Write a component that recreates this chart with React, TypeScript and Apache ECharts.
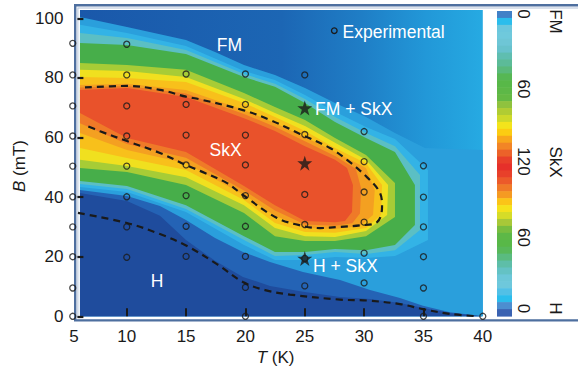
import React, { useEffect, useRef } from "react";
import * as echarts from "echarts";

const FONT = '"Liberation Sans", Arial, Helvetica, sans-serif';

// ---------- axes ----------
const tempTickValues = [10, 15, 20, 25, 30, 35];

// ---------- experimental points (T in K, B in mT) ----------
const expTemps = [5.45, 10, 15, 20, 25, 30, 35, 40];
const expFields = [
  [91.6, 81, 70.6, 60.5, 50.4, 40.1, 30, 20, 9.5, 0],
  [91.3, 81, 70.6, 60.5, 50.4, 40.1, 30, 19.8],
  [81.3, 71.1, 60.8, 50.8, 40.5, 30.2, 20.1],
  [81.3, 71.1, 60.8, 50.8, 40.5, 30.2, 20.1, 9.7, 0],
  [81, 61, 40.9, 30.8, 19.4, 10.2],
  [62, 51.9, 41.7, 31.6, 21.2, 11.2],
  [50.5, 40, 30, 20, 9.5, 0],
  [0],
];
const starTemps = [25, 25, 25];
const starFields = [69.9, 51.4, 19.4];

// ---------- phase boundaries (dashed) ----------
const skxBoundary = [
  [6.48, 76.8], [10.02, 77.3], [12.8, 76.0], [14.99, 73.7], [16.17, 72.8], [19.79, 69.2],
  [22.07, 65.9], [24.6, 61.2], [27.12, 56.5], [28.56, 52.5], [30.24, 46.7], [31.34, 41.4],
  [31.51, 36.7], [31.09, 31.6], [29.65, 30.5], [27.97, 30.0], [26.28, 29.6], [24.85, 30.3],
  [22.66, 33.0], [19.79, 40.7], [18.45, 44.7], [16.17, 48.8], [14.99, 50.8], [12.8, 54.8],
  [10.02, 58.8], [7.75, 62.1], [6.48, 64.2],
];
const hBoundary = [
  [5.89, 34.7], [10.02, 31.3], [12.8, 27.6], [15.08, 23.6], [17.6, 17.5], [19.79, 11.5],
  [21.65, 8.8], [23.75, 7.3], [27.97, 5.6], [30.24, 5.3], [33.02, 4.1], [34.96, 2.4],
  [37.24, 0.8], [39.6, 0],
];

// ---------- filled contour levels (outer -> inner) ----------
const baseArea = [[6.06, 0], [40, 0], [40, 102.8], [6.06, 102.8]];
const haloArea = [
  [6.06, 100.4], [10.02, 97.1], [14.99, 92.7], [17.44, 88.7], [19.88, 84.3], [22.49, 81.0],
  [25.02, 76.6], [27.55, 71.6], [30.16, 66.9], [32.6, 61.5], [35.13, 56.5], [40, 55.8],
  [40, 0], [6.06, 0],
];
const mediumArea = [
  [6.06, 42.4], [10.02, 40.4], [12.8, 37.0], [14.99, 32.3], [17.44, 26.3], [19.79, 21.6],
  [22.07, 18.2], [24.85, 14.9], [27.97, 12.2], [30.5, 8.8], [33.02, 6.1], [34.96, 3.5],
  [37.24, 1.4], [40, 0], [6.06, 0],
];
const darkArea = [
  [6.06, 41.4], [10.02, 38.7], [12.8, 33.7], [14.99, 25.6], [17.44, 18.6], [19.79, 13.2],
  [22.07, 10.2], [24.85, 8.2], [27.97, 6.5], [30.5, 5.8], [33.02, 4.5], [34.96, 2.8],
  [37.24, 1.1], [40, 0], [6.06, 0],
];
const cyanArea = [
  [6.06, 97.8], [10.02, 95.1], [14.99, 90.7], [19.88, 82.3], [22.49, 79.3], [25.02, 74.3],
  [27.55, 68.6], [30.16, 63.5], [32.6, 59.5], [35.38, 49.1], [35.38, 25.6], [32.6, 20.2],
  [30.16, 19.6], [27.55, 19.9], [25.02, 18.9], [22.49, 18.9], [19.88, 23.9], [14.99, 35.0],
  [10.02, 41.7], [6.06, 43.4],
];
const tealArea = [
  [6.06, 95.1], [10.02, 93.4], [14.99, 89.4], [19.88, 81.3], [22.49, 78.0], [25.02, 72.9],
  [27.55, 66.9], [30.16, 61.5], [32.6, 57.1], [34.71, 47.4], [34.71, 29.0], [32.6, 22.2],
  [30.16, 20.9], [27.55, 21.6], [25.02, 20.6], [22.49, 20.2], [19.88, 25.6], [14.99, 36.0],
  [10.02, 42.7], [6.06, 44.4],
];
const greenArea = [
  [6.06, 91.7], [10.02, 91.0], [14.99, 88.0], [19.88, 80.3], [22.49, 77.0], [25.02, 71.6],
  [27.55, 65.2], [30.16, 59.8], [32.6, 55.1], [34.28, 44.1], [34.28, 30.6], [32.6, 23.9],
  [30.16, 22.2], [27.55, 22.6], [25.02, 21.6], [22.49, 21.6], [19.88, 26.9], [14.99, 37.3],
  [10.02, 43.7], [6.06, 45.4],
];
const yellowGreenArea = [
  [6.06, 85.0], [10.02, 84.3], [14.99, 82.7], [19.88, 74.9], [22.49, 70.2], [25.02, 65.9],
  [27.55, 59.8], [30.16, 54.1], [32.6, 44.7], [32.6, 33.3], [30.16, 26.9], [27.55, 25.3],
  [25.02, 25.3], [22.49, 26.9], [19.88, 34.7], [14.99, 44.1], [10.02, 48.4], [6.06, 49.8],
];
const yellowArea = [
  [6.06, 82.7], [10.02, 82.3], [14.99, 80.3], [19.88, 72.9], [22.49, 68.2], [25.02, 63.9],
  [27.55, 58.2], [30.16, 52.5], [32.02, 44.1], [31.94, 34.0], [30.16, 28.6], [27.55, 26.6],
  [25.02, 26.9], [22.49, 29.6], [19.88, 37.3], [14.99, 46.7], [10.02, 50.4], [6.06, 52.5],
];
const goldArea = [
  [6.06, 80.3], [10.02, 80.0], [14.99, 78.6], [19.88, 71.6], [22.49, 66.9], [25.02, 62.2],
  [27.55, 56.5], [30.16, 51.4], [31.51, 44.1], [31.43, 34.0], [30.16, 29.6], [27.55, 28.0],
  [25.02, 28.3], [22.49, 31.3], [19.88, 39.0], [14.99, 49.1], [10.02, 53.1], [6.06, 56.5],
];
const orangeArea = [
  [6.06, 77.6], [10.02, 78.0], [14.99, 75.9], [19.88, 69.2], [22.49, 64.9], [25.02, 60.2],
  [27.55, 55.1], [30.16, 49.8], [30.9, 42.4], [30.75, 34.0], [29.65, 30.3], [27.55, 29.3],
  [25.02, 29.6], [22.49, 33.7], [19.88, 40.7], [14.99, 51.4], [10.02, 55.8], [6.06, 61.5],
];
const deepOrangeArea = [
  [6.06, 76.8], [10.02, 77.3], [14.99, 74.8], [19.88, 67.9], [22.49, 63.6], [25.02, 58.7],
  [27.55, 53.8], [29.3, 49.5], [29.75, 43.0], [29.65, 34.5], [29.0, 31.2], [27.55, 30.4],
  [25.02, 30.8], [22.49, 35.5], [19.88, 42.2], [14.99, 53.2], [10.02, 57.8], [6.06, 64.8],
];
const redArea = [
  [6.06, 75.9], [10.02, 76.6], [14.99, 73.6], [19.88, 66.5], [22.49, 62.2], [25.02, 57.1],
  [27.55, 52.5], [28.56, 49.8], [29.06, 44.1], [28.98, 35.0], [28.39, 32.0], [27.55, 31.6],
  [25.02, 32.0], [22.49, 37.3], [19.88, 43.7], [14.99, 55.1], [10.02, 59.8], [6.06, 68.2],
];

// ---------- colour bar (top FM side -> SkX -> bottom H side) ----------
const colorbarColors = [
  "#4181c7", "#2bbdec", "#6cc7dd", "#6fc9dc", "#6ec6d6", "#68c2cc", "#5fbeb0", "#5cbb98",
  "#5ab97a", "#56b754", "#58b848", "#5db847", "#64b944", "#8fc23e", "#b0cc33", "#cdd92a",
  "#f3e41c", "#fccc12", "#f8a61c", "#f28526", "#ec6229", "#e8402a", "#e6302a", "#e8402a",
  "#ec5a2a", "#f07a28", "#f59a22", "#fbc418", "#f5e21c", "#d6dc28", "#a8c838", "#78bd40",
  "#5db847", "#58b848", "#58b85a", "#5abb80", "#5ebea8", "#64c2c4", "#6cc7d8", "#6ec8dc",
  "#52c0e6", "#2bbdec", "#4c8ed0", "#3a62b2",
];
const colorbarTicks = ["0", "60", "120", "60", "0"];
const colorbarNames = ["FM", "SkX", "H"];

export default function App() {
  const ref = useRef<HTMLDivElement>(null);

  useEffect(() => {
    if (!ref.current) return;
    const chart = echarts.init(ref.current, null, { renderer: "svg" });

    const baseFill = new echarts.graphic.LinearGradient(0, 0, 1, 0, [
      { offset: 0, color: "#1a58aa" },
      { offset: 0.5, color: "#1c66b4" },
      { offset: 0.7, color: "#1f7ec6" },
      { offset: 0.86, color: "#2298d8" },
      { offset: 1, color: "#26aae2" },
    ]);

    const levels = [
      { pts: baseArea, fill: baseFill },
      { pts: haloArea, fill: "#2a9fdc" },
      { pts: mediumArea, fill: "#2463b5" },
      { pts: darkArea, fill: "#1f4c9d" },
      { pts: cyanArea, fill: "#33b3e6" },
      { pts: tealArea, fill: "#5bbfc4" },
      { pts: greenArea, fill: "#47ae4a" },
      { pts: yellowGreenArea, fill: "#a7cc36" },
      { pts: yellowArea, fill: "#f0e01f" },
      { pts: goldArea, fill: "#f8c01b" },
      { pts: orangeArea, fill: "#f4a021" },
      { pts: deepOrangeArea, fill: "#ef7a28" },
      { pts: redArea, fill: "#e9522b" },
    ];

    const expData: number[][] = [];
    expTemps.forEach((t, i) => expFields[i].forEach((b) => expData.push([t, b])));
    const starData = starTemps.map((t, i) => [t, starFields[i]]);

    // colour bar geometry
    const cbX = 497, cbTop = 11, cbBottom = 316, cbW = 15;
    const stripeH = (cbBottom - cbTop) / colorbarColors.length;
    const cbTickY = [14, 89, 161.5, 237.5, 308.5];
    const cbNameY = [21.5, 162, 308.5];

    const whiteText = (text: string, x: number, y: number, align: string) => ({
      type: "text",
      x,
      y,
      z: 100,
      style: {
        text,
        fill: "#ffffff",
        fontSize: 17.5,
        fontFamily: FONT,
        align,
        verticalAlign: "middle",
      },
    });

    // decorative double border, open to the right (pixel layout)
    const frameOuter = [[74, 4], [578, 4], [578, 6.4], [76.4, 6.4], [76.4, 319.2], [578, 319.2], [578, 321.6], [74, 321.6]];
    const frameInner = [[77.4, 7.6], [578, 7.6], [578, 8.6], [78.4, 8.6], [78.4, 317.6], [77.4, 317.6]];

    const graphics: any[] = [
      // colour bar stripes
      ...colorbarColors.map((c, i) => ({
        type: "rect",
        z: 2,
        shape: { x: cbX, y: cbTop + i * stripeH, width: cbW, height: stripeH + 0.6 },
        style: { fill: c },
      })),
      ...colorbarTicks.map((t, i) => ({
        type: "text",
        x: 523,
        y: cbTickY[i],
        rotation: -Math.PI / 2,
        z: 100,
        style: { text: t, fill: "#1a1a1a", fontSize: 17, fontFamily: FONT, align: "center", verticalAlign: "middle" },
      })),
      ...colorbarNames.map((t, i) => ({
        type: "text",
        x: 555,
        y: cbNameY[i],
        rotation: -Math.PI / 2,
        z: 100,
        style: { text: t, fill: "#1a1a1a", fontSize: 17, fontFamily: FONT, align: "center", verticalAlign: "middle" },
      })),
      // in-plot labels
      whiteText("FM", 229.5, 45, "center"),
      whiteText("SkX", 225.5, 150, "center"),
      whiteText("FM + SkX", 315, 108.5, "left"),
      whiteText("H + SkX", 313, 266, "left"),
      whiteText("H", 157, 281, "center"),
      whiteText("Experimental", 342.5, 32, "left"),
      {
        type: "circle",
        z: 100,
        shape: { cx: 334.3, cy: 30.7, r: 2.8 },
        style: { fill: "rgba(0,0,0,0)", stroke: "#1a1a1a", lineWidth: 1.3 },
      },
      // axis names
      {
        type: "text",
        x: 19,
        y: 166,
        rotation: Math.PI / 2,
        z: 100,
        style: {
          text: "{i|B} (mT)",
          fill: "#1a1a1a",
          fontSize: 17,
          fontFamily: FONT,
          align: "center",
          verticalAlign: "middle",
          rich: { i: { fontStyle: "italic", fontSize: 17, fontFamily: FONT, fill: "#1a1a1a" } },
        },
      },
      {
        type: "text",
        x: 275.5,
        y: 357,
        z: 100,
        style: {
          text: "{i|T} (K)",
          fill: "#1a1a1a",
          fontSize: 17,
          fontFamily: FONT,
          align: "center",
          verticalAlign: "middle",
          rich: { i: { fontStyle: "italic", fontSize: 17, fontFamily: FONT, fill: "#1a1a1a" } },
        },
      },
    ];

    const option: any = {
      animation: false,
      backgroundColor: "#ffffff",
      textStyle: { fontFamily: FONT },
      grid: { left: 67.4, top: 18.3, width: 415.4, height: 298, containLabel: false },
      xAxis: {
        type: "value",
        min: 5,
        max: 40,
        interval: 5,
        z: 10,
        axisLine: { show: false },
        splitLine: { show: false },
        axisTick: {
          show: true,
          inside: true,
          length: 8,
          customValues: tempTickValues,
          lineStyle: { color: "#1a1a1a", width: 2 },
        },
        axisLabel: {
          color: "#1a1a1a",
          fontSize: 17,
          fontFamily: FONT,
          margin: 12,
          formatter: (v: number) => (v === 5 ? "{s|5}" : String(v)),
          rich: { s: { padding: [0, 0, 0, 13], fontSize: 17, fontFamily: FONT, color: "#1a1a1a" } },
        },
      },
      yAxis: {
        type: "value",
        min: 0,
        max: 100,
        interval: 20,
        offset: -10,
        z: 10,
        axisLine: { show: false },
        splitLine: { show: false },
        axisTick: { show: true, inside: true, length: 6, lineStyle: { color: "#1a1a1a", width: 2.2 } },
        axisLabel: { color: "#1a1a1a", fontSize: 17, fontFamily: FONT, margin: 14 },
      },
      graphic: graphics,
      series: [
        {
          type: "custom",
          coordinateSystem: "cartesian2d",
          clip: false,
          silent: true,
          z: 2,
          data: levels.map((_, i) => [20, 50, i]),
          renderItem: (params: any, api: any) => {
            const lv = levels[params.dataIndex];
            return {
              type: "polygon",
              shape: { points: lv.pts.map((p) => api.coord(p)) },
              style: { fill: lv.fill, stroke: null },
            };
          },
        },
        {
          // decorative border of the panel
          type: "custom",
          coordinateSystem: "cartesian2d",
          clip: false,
          silent: true,
          z: 3,
          data: [[20, 50]],
          renderItem: () => ({
            type: "group",
            children: [
              { type: "polygon", shape: { points: frameOuter }, style: { fill: "#4e6f9f" } },
              { type: "polygon", shape: { points: frameInner }, style: { fill: "#b3c2d8" } },
            ],
          }),
        },
        {
          type: "line",
          data: skxBoundary,
          smooth: 0.35,
          symbol: "none",
          clip: false,
          silent: true,
          z: 3,
          lineStyle: { color: "#1a1a1a", width: 2.2, type: [7, 5] },
        },
        {
          type: "line",
          data: hBoundary,
          smooth: 0.35,
          symbol: "none",
          clip: false,
          silent: true,
          z: 3,
          lineStyle: { color: "#1a1a1a", width: 2.2, type: [7, 5] },
        },
        {
          name: "Experimental",
          type: "scatter",
          data: expData,
          symbol: "circle",
          symbolSize: 6,
          clip: false,
          silent: true,
          z: 70,
          itemStyle: { color: "rgba(0,0,0,0)", borderColor: "#1a1a1a", borderWidth: 1.3 },
        },
        {
          type: "scatter",
          data: starData,
          symbol:
            "path://M50,0 L61.8,35.4 L98.9,35.4 L68.9,57.3 L80.3,92.7 L50,70.8 L19.7,92.7 L31.1,57.3 L1.1,35.4 L38.2,35.4 Z",
          symbolSize: 15,
          clip: false,
          silent: true,
          z: 71,
          itemStyle: { color: "#1a1a1a" },
        },
      ],
    };

    chart.setOption(option);
    return () => chart.dispose();
  }, []);

  return (
    <div
      ref={ref}
      style={{ position: "absolute", left: 0, top: 0, width: 578, height: 368 }}
    />
  );
}
